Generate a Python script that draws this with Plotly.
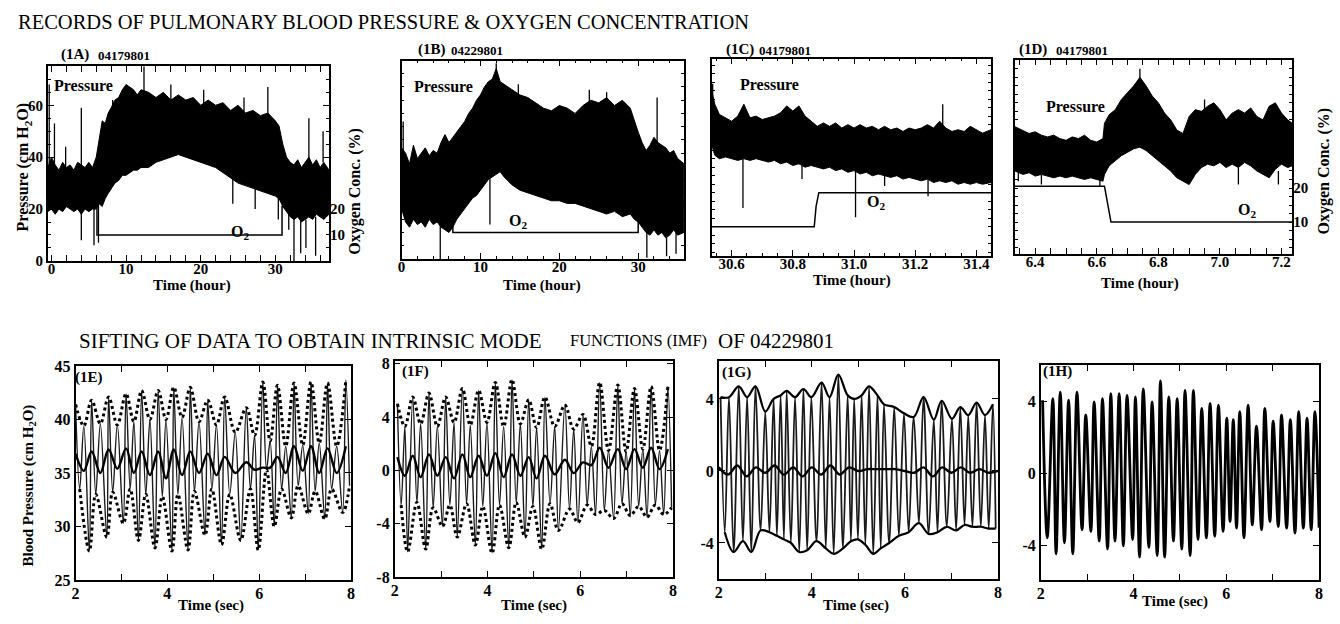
import plotly.graph_objects as go

W, H = 1340, 624
FONT = "Liberation Serif"

# ---------------- DATA ----------------
# (1A) 04179801 : pressure trace envelope (cm H2O) vs time (hour)
a_t = [-0.5, 0, 0.5, 1, 1.5, 2, 2.5, 3, 3.5, 4, 4.5, 5, 5.5, 6, 6.4, 6.8, 7.2, 7.6, 8, 8.5,
       9, 9.5, 10, 10.5, 11, 11.5, 12, 13, 14, 15, 16, 17, 18, 19, 20, 21, 22, 23, 24, 25,
       26, 27, 28, 29, 30, 30.5, 31, 31.5, 32, 32.5, 33, 33.5, 34, 34.5, 35, 35.5, 36, 36.5, 37.2]
a_hi = [36, 40, 37, 35, 38, 36, 37, 35, 38, 37, 36, 38, 36, 40, 48, 54, 53, 57, 59, 62,
        63, 66, 68, 67, 66, 64, 66, 65, 63, 65, 62, 64, 62, 63, 60, 62, 60, 61, 58, 60,
        57, 58, 56, 57, 54, 52, 45, 40, 38, 37, 39, 36, 38, 40, 37, 39, 36, 38, 35]
a_lo = [19, 20, 18, 20, 19, 21, 20, 19, 20, 18, 20, 19, 20, 20, 22, 21, 24, 26, 28, 30,
        31, 33, 33, 34, 35, 35, 36, 36, 38, 39, 40, 41, 40, 39, 38, 37, 36, 34, 32, 30,
        29, 28, 27, 26, 25, 24, 21, 19, 17, 16, 17, 15, 16, 17, 16, 18, 17, 16, 18]
a_spk_t = [-0.3, 0.4, 1.9, 4.0, 5.7, 6.3, 8.2, 12.4, 16.0, 20.4, 24.3, 25.8, 27.3, 29.0, 30.4, 31.8, 32.5, 33.4, 34.1, 34.5, 35.4, 36.4]
a_spk_lo = [35, 36, 35, 8, 6, 7, 55, 60, 60, 58, 22, 55, 20, 55, 16, 12, 0, 3, 5, 38, 2, 38]
a_spk_hi = [68, 53, 44, 59, 36, 22, 62, 75, 68, 66, 35, 63, 30, 67, 26, 20, 18, 17, 16, 55, 17, 50]
a_o2_t = [-0.5, 6.1, 6.1, 30.9, 30.9, 37.2]
a_o2_v = [21, 21, 10, 10, 21, 21]

# (1B) 04229801
b_t = [0, 0.5, 1, 1.5, 2, 2.5, 3, 3.5, 4, 4.5, 5, 5.5, 6, 6.5, 7, 7.5, 8, 8.5, 9, 9.5, 10, 10.5,
       11, 11.5, 12, 12.5, 13, 14, 15, 16, 17, 18, 19, 20, 21, 22, 23, 24, 25, 26, 27, 28, 29,
       29.5, 30, 30.5, 31, 31.5, 32, 32.5, 33, 33.5, 34, 34.5, 35, 35.8]
b_hi = [42, 40, 36, 43, 38, 40, 42, 39, 41, 40, 44, 47, 44, 46, 48, 50, 52, 55, 57, 60, 62, 65,
        67, 68, 72, 67, 66, 64, 62, 61, 59, 57, 56, 58, 57, 55, 58, 60, 59, 61, 58, 60, 57,
        52, 48, 44, 41, 43, 46, 44, 43, 42, 40, 41, 38, 36]
b_lo = [19, 14, 12, 15, 13, 14, 12, 15, 13, 14, 12, 11, 10, 12, 15, 17, 19, 21, 23, 24, 26, 28,
        30, 31, 32, 33, 31, 28, 26, 25, 24, 23, 22, 22, 21, 21, 20, 19, 18, 17, 18, 16, 17,
        15, 14, 12, 10, 9, 11, 9, 10, 8, 9, 11, 9, 10]
b_spk_t = [0.2, 4.9, 11.2, 12.0, 14.8, 23.8, 26.0, 31.1, 32.4, 33.6, 34.8]
b_spk_lo = [35, 0, 13, 65, 55, 55, 55, 0.5, 40, 1, 2]
b_spk_hi = [52, 14, 32, 74, 66, 64, 63, 12, 61, 10, 10]
b_o2_t = [0, 6.5, 6.5, 30.0, 30.0, 35.8]
b_o2_v = [21, 21, 10, 10, 21, 21]

# (1C) 04179801
c_t = [30.535, 30.545, 30.56, 30.58, 30.60, 30.62, 30.64, 30.66, 30.68, 30.70, 30.72, 30.74,
       30.76, 30.78, 30.80, 30.82, 30.84, 30.86, 30.88, 30.90, 30.92, 30.94, 30.96, 30.98,
       31.00, 31.02, 31.04, 31.06, 31.08, 31.10, 31.12, 31.14, 31.16, 31.18, 31.20, 31.22,
       31.24, 31.26, 31.28, 31.30, 31.32, 31.34, 31.36, 31.38, 31.40, 31.42, 31.448]
c_hi = [50, 46, 43, 42, 41, 42.5, 46, 42, 42.5, 41.5, 42, 42.5, 43.5, 45.5, 44, 45.5, 42.5, 41,
        39.5, 40.5, 39.5, 40.5, 39, 40, 39, 40, 39, 39.5, 38.5, 39.5, 38.5, 39, 38, 39, 38.5,
        39, 40, 39, 41, 39, 38, 38.5, 38, 39.5, 38.5, 37.5, 38.5]
c_lo = [34, 31, 30, 30.5, 30, 29.5, 30, 29.5, 30, 29.5, 29, 29.5, 28.5, 29, 28, 28.5, 27.5, 28,
        27.5, 27, 27.5, 26.5, 27, 26, 26.5, 25.5, 26, 25, 25.5, 25, 24.5, 25, 24, 24.5, 24,
        23.5, 24, 23, 23.5, 23, 23.5, 22.5, 23, 22.5, 23, 22.5, 23]
c_spk_t = [30.538, 30.637, 30.83, 31.005, 31.10, 31.242, 31.29]
c_spk_lo = [34, 15.5, 24, 12.8, 22, 19, 39]
c_spk_hi = [52, 30, 28, 27, 25, 24, 46]
c_o2_t = [30.535, 30.870, 30.876, 30.885, 31.448]
c_o2_v = [10, 10, 16, 20, 20]

# (1D) 04179801
d_t = [6.334, 6.36, 6.38, 6.40, 6.42, 6.44, 6.46, 6.48, 6.50, 6.52, 6.54, 6.56, 6.58, 6.60,
       6.62, 6.625, 6.64, 6.66, 6.68, 6.70, 6.72, 6.74, 6.76, 6.78, 6.80, 6.82, 6.84, 6.86,
       6.88, 6.90, 6.92, 6.94, 6.96, 6.98, 7.00, 7.02, 7.04, 7.06, 7.08, 7.10, 7.12, 7.14,
       7.16, 7.18, 7.20, 7.22, 7.235]
d_hi = [38, 37, 36, 36.5, 35.5, 35, 35.5, 34.5, 34, 35, 34.5, 35.5, 34, 33.5, 34.5, 39, 41.5,
        43, 46, 48, 50, 52.5, 50, 47, 45, 42, 40, 37, 36, 41, 43, 42.5, 44, 45, 43, 40, 42,
        43, 42, 43.5, 41, 40, 44, 45, 42, 40, 39]
d_lo = [25, 24, 24.5, 23.5, 24, 23.5, 23, 23.5, 23, 23.5, 23, 22.5, 23, 22.5, 22, 24, 26.5,
        28, 29.5, 30.5, 31.5, 32, 31, 29.5, 28, 26.5, 25, 23, 22, 21, 24, 26, 27, 26.5, 27.5,
        26, 27, 26, 27.5, 26.5, 25, 24, 23, 25.5, 27, 26, 26.5]
d_spk_t = [6.345, 6.42, 6.61, 6.74, 6.95, 7.06, 7.19]
d_spk_lo = [22, 21, 20.5, 50, 43, 21, 21]
d_spk_hi = [25, 24, 23, 55, 46, 26, 25]
d_o2_t = [6.334, 6.625, 6.646, 7.235]
d_o2_v = [20.5, 20.5, 10, 10]

# (1E) data extrema, envelopes and mean (cm H2O) vs time (sec)
e_pk_t = [2.00, 2.18, 2.35, 2.54, 2.72, 2.91, 3.10, 3.27, 3.44, 3.62, 3.80, 3.97, 4.14, 4.32, 4.50, 4.69,
          4.88, 5.07, 5.25, 5.48, 5.72, 5.90, 6.08, 6.24, 6.40, 6.58, 6.76, 6.95, 7.13, 7.31, 7.49, 7.69, 7.89]
e_pk_v = [41.4, 39.4, 41.8, 39.6, 42.1, 39.5, 42.4, 39.8, 42.7, 40.0, 42.7, 40.0, 43.0, 40.2, 43.0, 39.8,
          41.8, 39.5, 42.1, 38.8, 41.1, 38.5, 43.5, 38.0, 43.2, 37.5, 43.4, 37.6, 43.5, 37.8, 43.4, 37.5, 43.7]
e_tr_t = [2.09, 2.30, 2.44, 2.68, 2.81, 3.04, 3.19, 3.37, 3.53, 3.73, 3.89, 4.10, 4.23, 4.45, 4.59, 4.82,
          4.97, 5.18, 5.36, 5.60, 5.81, 5.98, 6.16, 6.33, 6.49, 6.70, 6.85, 7.07, 7.22, 7.43, 7.58, 7.82, 7.97]
e_tr_v = [33.5, 27.7, 33.0, 29.0, 33.2, 30.3, 33.5, 28.7, 33.0, 28.0, 32.8, 27.7, 33.0, 27.8, 33.3, 29.2,
          33.5, 28.3, 33.0, 28.7, 33.5, 27.8, 35.3, 30.0, 33.5, 30.8, 33.8, 31.2, 33.3, 30.7, 33.5, 31.3, 33.8]
e_mn_t = [2.00, 2.18, 2.35, 2.54, 2.72, 2.91, 3.10, 3.27, 3.44, 3.62, 3.80, 3.97, 4.14, 4.32, 4.50, 4.69,
          4.88, 5.07, 5.25, 5.48, 5.72, 5.90, 6.08, 6.24, 6.40, 6.58, 6.76, 6.95, 7.13, 7.31, 7.49, 7.69, 7.89]
e_mn_v = [36.8, 35.2, 37.0, 35.0, 37.2, 35.4, 37.3, 35.0, 37.0, 34.8, 37.0, 34.5, 37.2, 34.8, 37.0, 35.0,
          36.8, 34.8, 36.5, 35.0, 36.0, 35.3, 35.5, 35.5, 36.5, 35.0, 37.5, 35.2, 37.5, 35.0, 37.3, 35.0, 37.5]

# (1F)
f_pk_t = [2.06, 2.22, 2.39, 2.56, 2.74, 2.92, 3.10, 3.28, 3.46, 3.63, 3.81, 3.99, 4.17, 4.35, 4.53, 4.71,
          4.89, 5.06, 5.24, 5.45, 5.67, 5.86, 6.06, 6.24, 6.42, 6.61, 6.81, 6.99, 7.17, 7.35, 7.53, 7.71, 7.89]
f_pk_v = [5.0, 3.3, 5.5, 3.5, 5.8, 3.3, 5.5, 3.6, 6.15, 3.4, 6.0, 3.6, 6.6, 3.3, 6.8, 3.5,
          5.3, 3.2, 5.5, 3.3, 4.9, 3.1, 4.2, 1.8, 6.6, 1.5, 6.4, 1.4, 6.15, 1.6, 6.3, 1.5, 6.3]
f_tr_t = [2.14, 2.28, 2.48, 2.67, 2.83, 3.03, 3.19, 3.35, 3.55, 3.74, 3.90, 4.10, 4.26, 4.46, 4.62, 4.81,
          4.98, 5.17, 5.35, 5.53, 5.77, 5.95, 6.15, 6.33, 6.52, 6.72, 6.90, 7.08, 7.26, 7.44, 7.62, 7.80, 7.97]
f_tr_v = [-2.6, -6.1, -2.4, -5.9, -2.8, -4.2, -2.6, -5.0, -2.5, -5.6, -2.7, -6.2, -2.6, -5.8, -2.4, -5.0,
          -2.7, -5.9, -2.5, -4.5, -2.9, -3.9, -2.6, -3.3, -3.0, -3.6, -2.5, -3.4, -2.7, -3.5, -2.6, -3.3, -2.8]
f_mn_t = [2.06, 2.22, 2.39, 2.56, 2.74, 2.92, 3.10, 3.28, 3.46, 3.63, 3.81, 3.99, 4.17, 4.35, 4.53, 4.71,
          4.89, 5.06, 5.24, 5.45, 5.67, 5.86, 6.06, 6.24, 6.42, 6.61, 6.81, 6.99, 7.17, 7.35, 7.53, 7.71, 7.89]
f_mn_v = [1.0, -0.4, 1.1, -0.5, 1.2, -0.4, 1.0, -0.6, 1.2, -0.5, 1.1, -0.4, 1.3, -0.5, 1.2, -0.4,
          1.0, -0.6, 1.1, -0.3, 0.8, -0.2, 0.6, 0.4, 1.7, 0.2, 1.6, 0.1, 1.6, 0.2, 1.7, 0.1, 1.6]

# (1G)
g_pk_t = [2.04, 2.22, 2.43, 2.61, 2.79, 3.00, 3.18, 3.33, 3.46, 3.64, 3.82, 3.99, 4.21, 4.38, 4.57, 4.77,
          4.91, 5.07, 5.23, 5.41, 5.55, 5.77, 5.98, 6.19, 6.40, 6.62, 6.79, 7.01, 7.19, 7.36, 7.54, 7.72, 7.89]
g_pk_v = [4.1, 4.1, 4.7, 4.1, 4.7, 3.3, 4.0, 4.2, 4.45, 4.1, 4.55, 4.1, 4.9, 4.1, 5.35, 4.2,
          4.0, 4.2, 4.7, 4.2, 3.7, 3.55, 3.2, 3.0, 4.1, 2.85, 3.9, 2.9, 3.55, 3.1, 3.8, 3.1, 3.7]
g_tr_t = [2.13, 2.32, 2.52, 2.70, 2.90, 3.09, 3.25, 3.40, 3.55, 3.73, 3.90, 4.10, 4.30, 4.47, 4.67, 4.84,
          4.99, 5.15, 5.32, 5.48, 5.66, 5.87, 6.08, 6.30, 6.51, 6.70, 6.90, 7.10, 7.28, 7.45, 7.63, 7.80, 7.95]
g_tr_v = [-3.4, -4.5, -3.9, -4.5, -3.3, -3.4, -3.6, -3.8, -4.0, -4.5, -4.4, -3.9, -4.3, -4.6, -4.3, -3.9,
          -3.8, -4.1, -4.6, -4.3, -4.0, -3.6, -3.4, -2.9, -3.5, -3.4, -3.1, -3.3, -3.0, -3.1, -3.1, -3.2, -3.2]
g_mn_t = [2.0, 2.2, 2.4, 2.6, 2.8, 3.0, 3.2, 3.4, 3.6, 3.8, 4.0, 4.2, 4.4, 4.6, 4.8, 5.0,
          5.2, 5.4, 5.6, 5.8, 6.0, 6.2, 6.4, 6.6, 6.8, 7.0, 7.2, 7.4, 7.6, 7.8, 8.0]
g_mn_v = [0.2, -0.2, 0.3, -0.3, 0.2, -0.1, 0.3, -0.2, 0.2, -0.3, 0.2, -0.2, 0.3, -0.2, 0.2, 0.0,
          0.1, 0.1, 0.1, 0.1, 0.0, -0.1, 0.2, -0.3, 0.2, -0.1, 0.2, -0.1, 0.1, -0.1, 0.0]

# (1H) intrinsic mode function
h_pk_t = [2.04, 2.26, 2.42, 2.60, 2.78, 2.97, 3.15, 3.33, 3.51, 3.69, 3.86, 4.04, 4.21, 4.40, 4.58, 4.76, 4.94,
          5.11, 5.29, 5.47, 5.65, 5.83, 6.01, 6.15, 6.29, 6.47, 6.65, 6.83, 7.01, 7.19, 7.38, 7.56, 7.74, 7.91]
h_pk_v = [4.05, 4.14, 4.5, 4.05, 4.5, 3.24, 3.96, 4.14, 4.41, 4.41, 4.32, 4.23, 4.68, 3.96, 5.12, 4.23, 4.14,
          4.59, 4.59, 3.6, 3.87, 3.78, 3.06, 2.97, 3.42, 3.78, 2.62, 3.6, 2.89, 3.24, 2.97, 3.42, 3.06, 3.42]
h_tr_t = [2.14, 2.33, 2.51, 2.69, 2.89, 3.08, 3.26, 3.44, 3.60, 3.78, 3.98, 4.13, 4.33, 4.51, 4.67, 4.86, 5.04,
          5.22, 5.39, 5.57, 5.75, 5.93, 6.08, 6.22, 6.38, 6.56, 6.76, 6.94, 7.12, 7.30, 7.48, 7.66, 7.83, 8.0]
h_tr_v = [-3.57, -4.46, -3.84, -4.46, -3.12, -3.21, -3.75, -4.19, -3.75, -4.01, -3.66, -4.64, -4.1, -4.55, -4.64,
          -3.75, -4.19, -4.55, -3.66, -3.57, -3.48, -3.21, -2.67, -3.03, -3.57, -2.85, -3.12, -2.67, -2.94, -3.03,
          -3.3, -3.03, -3.12, -3.0]

# ---------------- FIGURE ----------------
fig = go.Figure()


def sfx(n):
    return "" if n == 1 else str(n)


def add(n, tr, yax=None):
    tr.update(xaxis="x" + sfx(n), yaxis=yax if yax else "y" + sfx(n), hoverinfo="skip", showlegend=False)
    fig.add_trace(tr)


def band(n, t, hi, lo):
    xs = list(t) + list(t)[::-1]
    ys = list(hi) + list(lo)[::-1]
    add(n, go.Scatter(x=xs, y=ys, mode="lines", fill="toself", fillcolor="black",
                      line=dict(color="black", width=1)))


def spikes(n, t, lo, hi):
    xs, ys = [], []
    for a, b, c in zip(t, lo, hi):
        xs += [a, a, None]
        ys += [b, c, None]
    add(n, go.Scatter(x=xs, y=ys, mode="lines", line=dict(color="black", width=1.3)))


def merged(pt, pv, tt, tv):
    pts = sorted(list(zip(pt, pv)) + list(zip(tt, tv)))
    return [p[0] for p in pts], [p[1] for p in pts]


# top row
add(1, go.Scatter(x=a_o2_t, y=a_o2_v, mode="lines", line=dict(color="black", width=1.5)), yax="y9")
band(1, a_t, a_hi, a_lo)
spikes(1, a_spk_t, a_spk_lo, a_spk_hi)

add(2, go.Scatter(x=b_o2_t, y=b_o2_v, mode="lines", line=dict(color="black", width=1.5)))
band(2, b_t, b_hi, b_lo)
spikes(2, b_spk_t, b_spk_lo, b_spk_hi)

add(3, go.Scatter(x=c_o2_t, y=c_o2_v, mode="lines", line=dict(color="black", width=1.5)))
band(3, c_t, c_hi, c_lo)
spikes(3, c_spk_t, c_spk_lo, c_spk_hi)

add(4, go.Scatter(x=d_o2_t, y=d_o2_v, mode="lines", line=dict(color="black", width=1.5)), yax="y10")
band(4, d_t, d_hi, d_lo)
spikes(4, d_spk_t, d_spk_lo, d_spk_hi)

# bottom row
for n, (pt, pv, tt, tv, mt, mv, dash, dw) in {
    5: (e_pk_t, e_pk_v, e_tr_t, e_tr_v, e_mn_t, e_mn_v, "dot", 1.4),
    6: (f_pk_t, f_pk_v, f_tr_t, f_tr_v, f_mn_t, f_mn_v, "dot", 1.4),
    7: (g_pk_t, g_pk_v, g_tr_t, g_tr_v, g_mn_t, g_mn_v, "solid", 1.8),
}.items():
    dx, dy = merged(pt, pv, tt, tv)
    add(n, go.Scatter(x=dx, y=dy, mode="lines", line=dict(color="#1a1a1a", width=dw, shape="spline")))
    add(n, go.Scatter(x=pt, y=pv, mode="lines", line=dict(color="black", width=3 if dash == "dot" else 2.2,
                                                          dash=dash, shape="spline")))
    add(n, go.Scatter(x=tt, y=tv, mode="lines", line=dict(color="black", width=3 if dash == "dot" else 2.2,
                                                          dash=dash, shape="spline")))
    add(n, go.Scatter(x=mt, y=mv, mode="lines", line=dict(color="black", width=2.4, shape="spline")))

hx, hy = merged(h_pk_t, h_pk_v, h_tr_t, h_tr_v)
add(8, go.Scatter(x=hx, y=hy, mode="lines", line=dict(color="black", width=2.8, shape="spline")))

# ---------------- AXES ----------------
boxes = {  # pixel boxes (left, top, right, bottom)
    1: (44, 60, 327, 260), 2: (400, 54, 684, 258), 3: (712, 52, 993, 255), 4: (1017, 53, 1296, 253),
    5: (72, 368, 349, 588), 6: (393, 363, 673, 585), 7: (719, 363, 1000, 587), 8: (1043, 367, 1323, 588),
}
xranges = {1: [-0.5, 37.2], 2: [0, 35.8], 3: [30.535, 31.448], 4: [6.334, 7.235],
           5: [2, 8], 6: [2, 8], 7: [2, 8], 8: [2, 8]}
yranges = {1: [0, 75], 2: [0, 75], 3: [1.4, 59.4], 4: [0.6, 57.7],
           5: [25, 45], 6: [-8, 8.2], 7: [-6, 6.1], 8: [-5.9, 6]}
xticks = {1: ([0, 10, 20, 30], ["0", "10", "20", "30"]),
          2: ([0, 10, 20, 30], ["0", "10", "20", "30"]),
          3: ([30.6, 30.8, 31.0, 31.2, 31.4], ["30.6", "30.8", "31.0", "31.2", "31.4"]),
          4: ([6.4, 6.6, 6.8, 7.0, 7.2], ["6.4", "6.6", "6.8", "7.0", "7.2"])}
for n in (5, 6, 7, 8):
    xticks[n] = ([2, 3, 4, 5, 6, 7, 8], ["2", "", "4", "", "6", "", "8"])
yticks = {1: ([0, 20, 40, 60], ["0", "20", "40", "60"]),
          2: ([10, 20, 30, 40, 50, 60, 70], [""] * 7),
          3: ([10, 20, 30, 40, 50], [""] * 5),
          4: ([10, 20, 30, 40, 50], [""] * 5),
          5: ([25, 30, 35, 40, 45], ["25", "30", "35", "40", "45"]),
          6: ([-8, -4, 0, 4, 8], ["-8", "-4", "0", "4", "8"]),
          7: ([-4, 0, 4], ["-4", "0", "4"]),
          8: ([-4, 0, 4], ["-4", "0", "4"])}
xminor = {1: 2, 2: 2, 3: 0.05, 4: 0.05}
yminor = {1: 5, 2: 5, 3: 2.5, 4: 2.5}

layout = dict(width=W, height=H, margin=dict(l=0, r=0, t=0, b=0), paper_bgcolor="white",
              plot_bgcolor="white", showlegend=False)

for n, (x0, y0, x1, y1) in boxes.items():
    s = sfx(n)
    fs = 15 if n <= 4 else 16
    tf = dict(family=FONT, size=fs, color="black", weight="bold")
    common = dict(showline=True, linecolor="black", linewidth=1.6, mirror="allticks", ticks="inside",
                  ticklen=6, tickwidth=1.2, tickcolor="black", showgrid=False, zeroline=False,
                  tickfont=tf, tickmode="array")
    xa = dict(common, domain=[x0 / W, x1 / W], range=xranges[n], anchor="y" + s,
              tickvals=xticks[n][0], ticktext=xticks[n][1],
              ticklabelstandoff=-7 if n <= 4 else -2)
    ya = dict(common, domain=[1 - y1 / H, 1 - y0 / H], range=yranges[n], anchor="x" + s,
              tickvals=yticks[n][0], ticktext=yticks[n][1])
    if n in xminor:
        xa["minor"] = dict(ticks="inside", ticklen=3, tickcolor="black", dtick=xminor[n])
        ya["minor"] = dict(ticks="inside", ticklen=3, tickcolor="black", dtick=yminor[n])
    if n not in (1, 5, 6, 7, 8):
        ya["showticklabels"] = False
    layout["xaxis" + s] = xa
    layout["yaxis" + s] = ya

o2font = dict(family=FONT, size=15, color="black", weight="bold")
layout["yaxis9"] = dict(overlaying="y", anchor="x", side="right", range=yranges[1], tickmode="array",
                        tickvals=[10, 20], ticktext=["10", "20"], ticks="", showline=False,
                        showgrid=False, zeroline=False, tickfont=o2font)
layout["yaxis10"] = dict(overlaying="y4", anchor="x4", side="right", range=yranges[4], tickmode="array",
                         tickvals=[10, 20], ticktext=["10", "20"], ticks="", showline=False,
                         showgrid=False, zeroline=False, tickfont=o2font)

# ---------------- TEXT ----------------
anns = []


def ann(text, px, py, size, xanchor="center", angle=0, weight="normal"):
    anns.append(dict(text=text, x=px / W, y=1 - py / H, xref="paper", yref="paper", xanchor=xanchor,
                     yanchor="middle", textangle=angle, showarrow=False,
                     font=dict(family=FONT, size=size, color="black", weight=weight)))


ann("RECORDS OF PULMONARY BLOOD PRESSURE &amp; OXYGEN CONCENTRATION", 12, 14, 20.5, xanchor="left")
ann("SIFTING OF DATA TO OBTAIN INTRINSIC MODE", 73, 342, 21, xanchor="left")
ann("FUNCTIONS (IMF)", 567, 342, 16.5, xanchor="left")
ann("OF 04229801", 716, 342, 21, xanchor="left")

for lab, num, x0, x1, y in [("(1A)", "04179801", 55, 93, 48), ("(1B)", "04229801", 414, 448, 43),
                            ("(1C)", "04179801", 724, 758, 43), ("(1D)", "04179801", 1019, 1056, 43)]:
    ann(lab, x0, y, 15, xanchor="left", weight="bold")
    ann(num, x1, y + 1, 13, xanchor="left", weight="bold")

for px, py in [(80, 80), (442, 81), (770, 79), (1078, 101)]:
    ann("Pressure", px, py, 16, weight="bold")
for px, py in [(237, 231), (517, 219), (877, 200), (1250, 208)]:
    ann("O<sub>2</sub>", px, py, 16, weight="bold")

for px, py in [(189, 285), (541, 285), (853, 280), (1143, 283)]:
    ann("Time (hour)", px, py, 15, weight="bold")
for px, py in [(208, 614), (533, 614), (857, 614), (1178, 610)]:
    ann("Time (sec)", px, py, 15, weight="bold")

ann("Pressure (cm H<sub>2</sub>O)", 20, 163, 16, angle=-90, weight="bold")
ann("Oxygen Conc. (%)", 353, 188, 16, angle=-90, weight="bold")
ann("Oxygen Conc. (%)", 1328, 168, 16, angle=-90, weight="bold")
ann("Blood Pressure (cm H<sub>2</sub>O)", 25, 491, 15, angle=-90, weight="bold")

for lab, px, py in [("(1E)", 86, 380), ("(1F)", 414, 374), ("(1G)", 737, 375), ("(1H)", 1060, 374)]:
    ann(lab, px, py, 15, weight="bold")

layout["annotations"] = anns
fig.update_layout(**layout)
fig.write_html("out.html")
